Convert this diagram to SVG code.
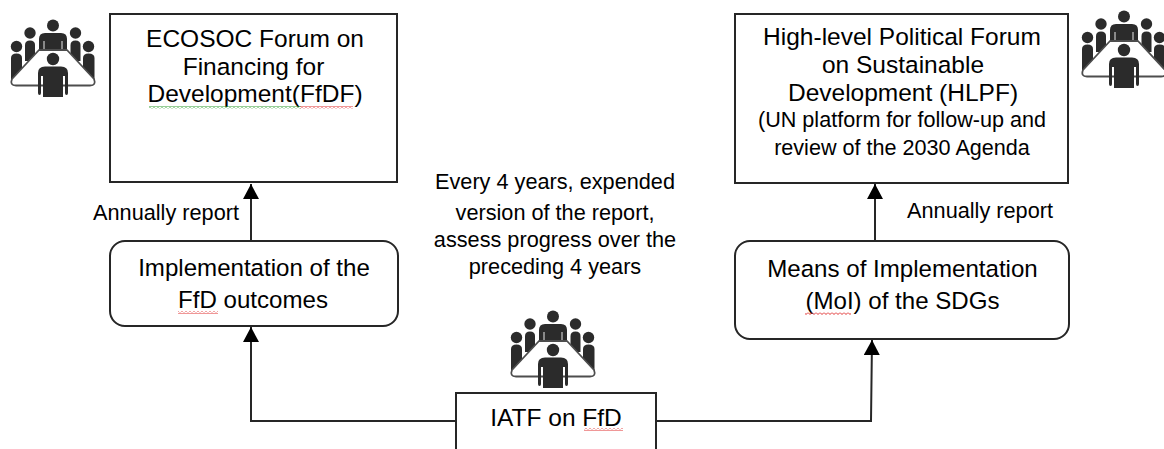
<svg xmlns="http://www.w3.org/2000/svg" xmlns:xlink="http://www.w3.org/1999/xlink" width="1164" height="449" viewBox="0 0 1164 449">
<style>
text{font-family:"Liberation Sans",Arial,sans-serif;fill:#000;text-anchor:middle}
.l{font-size:24.5px}.k{font-size:24.1px}.m{font-size:21.6px}.s{font-size:21.7px}
.box{fill:#fff;stroke:#262626;stroke-width:2}
.c{fill:none;stroke:#262626;stroke-width:2}
.p{fill:#2b2b2b}
.slit{fill:none;stroke:#fff;stroke-width:.9}
</style>
<defs>
<marker id="arrow" markerUnits="userSpaceOnUse" markerWidth="16" markerHeight="16" refX="15" refY="8" orient="auto"><path d="M0 0L15 8L0 16Z" fill="#000"/></marker>
<pattern id="red" width="4" height="3" patternUnits="userSpaceOnUse"><path d="M0 .5L2 2.500L4 .5" fill="none" stroke="#e03030" stroke-width="1"/></pattern>
<pattern id="green" width="4" height="3" patternUnits="userSpaceOnUse"><path d="M0 .5L2 2.500L4 .5" fill="none" stroke="#2f9e2f" stroke-width="1"/></pattern>
<g id="meeting">
<circle class="p" cx="43" cy="6.500" r="6"/><circle class="p" cx="20" cy="14" r="5.700"/><circle class="p" cx="65.500" cy="14" r="5.700"/><circle class="p" cx="6.500" cy="27.500" r="5.700"/><circle class="p" cx="78.500" cy="27.500" r="5.700"/>
<path class="p" d="M29 33V20Q29 14 35 14H51Q57 14 57 20V33Z"/>
<path class="slit" d="M34 22V33M52 22V33"/>
<path class="p" d="M15 42V26Q15 21.500 20 21.500Q25 21.500 25 26V42Z"/><path class="p" d="M60.500 42V26Q60.500 21.500 65.500 21.500Q70.500 21.500 70.500 26V42Z"/>
<path class="p" d="M1 60V39Q1 34.500 6.500 34.500Q12 34.500 12 39V54L4 63Z"/><path class="p" d="M84.500 60V39Q84.500 34.500 78.500 34.500Q73 34.500 73 39V54L81.500 63Z"/>
<path d="M29 31H57L84 60Q86.500 66.500 80 66.500H6Q-.5 66.500 2 60Z" fill="#fff" stroke="#4d4d4d" stroke-width="1.800" stroke-linejoin="round"/>
<circle class="p" cx="43" cy="40" r="6.200"/>
<path class="p" d="M28 54Q28 47.500 35 47.500H51Q58 47.500 58 54V74Q58 76 56.500 76Q55 76 55 74V57H53V78H33V57H31V74Q31 76 29.500 76Q28 76 28 74Z"/>
</g>
</defs>
<g id="connectors">
<path class="c" d="M251 241V184" marker-end="url(#arrow)"/>
<path class="c" d="M875 241V184" marker-end="url(#arrow)"/>
<path class="c" d="M456 421H251V327" marker-end="url(#arrow)"/>
<path class="c" d="M656 421H871L872 340" marker-end="url(#arrow)"/>
</g>
<g id="ecosoc"><rect class="box" x="110" y="14" width="287" height="168"/>
<text class="l" x="255" y="47">ECOSOC Forum on</text><text class="l" x="253.500" y="75">Financing for</text><text class="l" x="255" y="102">Development(FfDF)</text>
<rect x="149" y="106" width="152" height="3" fill="url(#green)"/><rect x="300" y="106" width="53" height="3" fill="url(#red)"/></g>
<g id="hlpf"><rect class="box" x="735" y="14" width="333" height="169"/>
<text class="l" x="902" y="45">High-level Political Forum</text><text class="l" x="903" y="73">on Sustainable</text><text class="l" x="903" y="101">Development (HLPF)</text>
<text class="m" x="902" y="127">(UN platform for follow-up and</text><text class="m" x="902" y="155">review of the 2030 Agenda</text></g>
<g id="implementation"><rect class="box" x="110" y="241" width="288" height="85" rx="15"/>
<text class="k" x="254" y="276">Implementation of the</text><text class="k" x="253" y="308">FfD outcomes</text>
<rect x="178" y="311" width="40" height="3" fill="url(#red)"/></g>
<g id="moi"><rect class="box" x="735" y="241" width="334" height="98" rx="15"/>
<text class="k" x="902.500" y="277">Means of Implementation</text><text class="k" x="902.500" y="309">(MoI) of the SDGs</text>
<rect x="805" y="312" width="46" height="3" fill="url(#red)"/></g>
<g id="iatf"><path class="box" d="M456 449V393H656V449"/>
<text class="l" x="556" y="426">IATF on FfD</text>
<rect x="584" y="428" width="39" height="3" fill="url(#red)"/></g>
<g id="label-left"><text class="s" x="166" y="220">Annually report</text></g>
<g id="label-right"><text class="s" x="980" y="218">Annually report</text></g>
<g id="note"><text class="s" x="555" y="189">Every 4 years, expended</text><text class="s" x="555" y="220">version of the report,</text><text class="s" x="555" y="247">assess progress over the</text><text class="s" x="555" y="274">preceding 4 years</text></g>
<g id="meeting-1"><use href="#meeting" x="10" y="19"/></g>
<g id="meeting-2"><use href="#meeting" x="1081" y="10"/></g>
<g id="meeting-3"><use href="#meeting" x="510" y="310"/></g>
</svg>
